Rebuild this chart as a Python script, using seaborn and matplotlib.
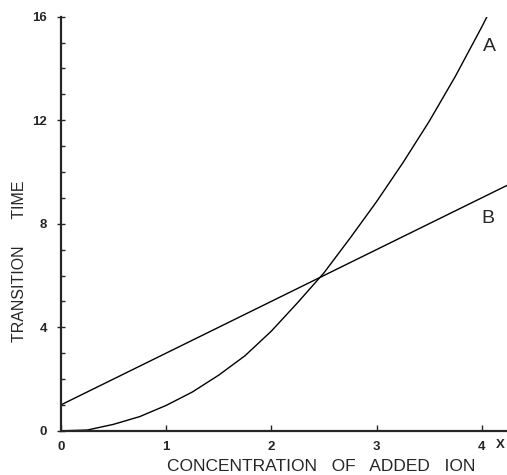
import matplotlib.pyplot as plt
import matplotlib.transforms as mtransforms
import numpy as np
import pandas as pd
import seaborn as sns

# curve A
conc_a = [0, 0.25, 0.5, 0.75, 1.0, 1.25, 1.5, 1.75, 2.0, 2.25, 2.5, 2.75, 3.0, 3.25, 3.5, 3.75, 4.0, 4.1]
time_a = [0, 0.03, 0.25, 0.55, 0.98, 1.5, 2.15, 2.9, 3.85, 4.95, 6.1, 7.45, 8.85, 10.35, 11.95, 13.7, 15.6, 16.4]

# line B
conc_b = [0, 1, 2, 3, 4, 4.24]
time_b = [1, 3, 5, 7, 9, 9.48]

x_ticks = [0, 1, 2, 3, 4]
y_ticks = [0, 4, 8, 12, 16]

sns.set_style("ticks")
plt.rcParams["font.family"] = ["Liberation Sans", "DejaVu Sans"]

fig = plt.figure(figsize=(5.07, 4.75), dpi=100)
ax = fig.add_axes([0.120, 0.093, 0.880, 0.872])

df_a = pd.DataFrame({"x": conc_a, "y": time_a})
df_b = pd.DataFrame({"x": conc_b, "y": time_b})
sns.lineplot(data=df_a, x="x", y="y", ax=ax, color="black", linewidth=1.0, sort=False)
sns.lineplot(data=df_b, x="x", y="y", ax=ax, color="black", linewidth=1.0, sort=False)

ax.set_xlim(0, 4.24)
ax.set_ylim(0, 16)
ax.set_xticks(x_ticks)
ax.set_yticks(y_ticks)
ax.set_yticks(np.arange(0, 17, 1), minor=True)
ax.set_xticklabels([str(t) for t in x_ticks], fontsize=9.5, fontweight="bold")
ax.set_yticklabels([str(t) for t in y_ticks], fontsize=9.5, fontweight="bold")
ax.tick_params(axis="x", which="major", direction="in", length=4, width=1, pad=7)
ax.tick_params(axis="y", which="major", direction="inout", length=6, width=1, pad=7)
ax.tick_params(axis="y", which="minor", direction="in", length=3, width=1)

for side in ["top", "right"]:
    ax.spines[side].set_visible(False)
for side in ["left", "bottom"]:
    ax.spines[side].set_linewidth(1.6)

ax.set_xlabel("CONCENTRATION   OF   ADDED   ION", fontsize=12.5)
ax.xaxis.set_label_coords(0.583, -0.085)
ax.xaxis.label.set_va("center")
ax.set_ylabel("TRANSITION      TIME", fontsize=11.5)
ax.yaxis.set_label_coords(-0.092, 0.41)
ax.yaxis.label.set_va("center")

trans = mtransforms.blended_transform_factory(ax.transData, ax.transAxes)
ax.text(4.18, -0.02, "X", transform=trans, fontsize=9.5, fontweight="bold", ha="center", va="top")

ax.text(4.07, 14.86, "A", fontsize=14, ha="center", va="center")
ax.text(4.06, 8.19, "B", fontsize=14, ha="center", va="center")

fig.savefig("out.png", dpi=100)
